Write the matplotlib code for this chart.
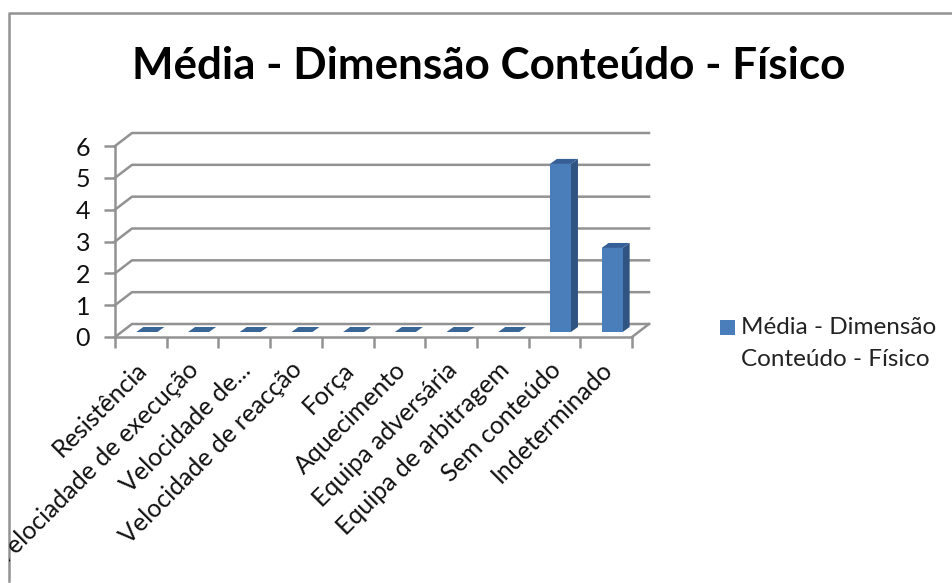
import matplotlib as mpl
mpl.use('Agg')
import matplotlib.pyplot as plt
from matplotlib.patches import Polygon, Rectangle
from matplotlib.transforms import Bbox

plt.rcParams['font.family'] = ['Lato', 'DejaVu Sans']

W, H = 952, 583
GRAY = '#929292'

categories = ['Resistência', 'Velociadade de execução', 'Velocidade de...',
              'Velocidade de reacção', 'Força', 'Aquecimento', 'Equipa adversária',
              'Equipa de arbitragem', 'Sem conteúdo', 'Indeterminado']
values = [0, 0, 0, 0, 0, 0, 0, 0, 5.28, 2.64]
y_ticks = [0, 1, 2, 3, 4, 5, 6]
title = 'Média - Dimensão Conteúdo - Físico'
legend_lines = ['Média - Dimensão', 'Conteúdo - Físico']

fig = plt.figure(figsize=(W / 100, H / 100), dpi=100)

# front plane of the fake 3d box
left, right, top, bottom = 115, 632, 146, 337
ax = fig.add_axes([left / W, 1 - bottom / H, (right - left) / W, (bottom - top) / H])
ax.set_xlim(0, len(categories))
ax.set_ylim(0, 6)
ax.patch.set_alpha(0)

# pixel sizes turned into data units
px_x = len(categories) / (right - left)
px_y = 6 / (bottom - top)
dx, dy = 17 * px_x, 13 * px_y

for s in ['top', 'right']:
    ax.spines[s].set_visible(False)
for s in ['left', 'bottom']:
    ax.spines[s].set_color(GRAY)
    ax.spines[s].set_linewidth(1.8)

# back wall lines and the slanted bits
for v in y_ticks:
    ax.plot([0, dx, len(categories) + dx], [v, v + dy, v + dy], color=GRAY, lw=1.8,
            clip_on=False, zorder=1, solid_joinstyle='round')
ax.plot([len(categories), len(categories) + dx], [0, dy], color=GRAY, lw=1.8, clip_on=False, zorder=1)

# bars
bw = 21 * px_x
fx, fy = 6 * px_x, 5 * px_y
bx, by = 7 * px_x, 5 * px_y
for i, v in enumerate(values):
    x0 = i + 0.5 + fx - bw / 2
    x1 = x0 + bw
    y0 = fy
    y1 = fy + v
    if v > 0:
        ax.add_patch(Polygon([(x1, y0), (x1 + bx, y0 + by), (x1 + bx, y1 + by), (x1, y1)],
                             fc='#2f5482', ec='none', zorder=3, clip_on=False))
        ax.add_patch(Polygon([(x0, y1), (x0 + bx, y1 + by), (x1 + bx, y1 + by), (x1, y1)],
                             fc='#355f96', ec='none', zorder=3, clip_on=False))
        ax.add_patch(Rectangle((x0, y0), bw, v, fc='#4a7ebb', ec='none', zorder=4, clip_on=False))
    else:
        ax.add_patch(Polygon([(x0, y0), (x0 + bx, y0 + by), (x1 + bx, y0 + by), (x1, y0)],
                             fc='#3a6597', ec='none', zorder=3, clip_on=False))

ax.set_yticks(y_ticks)
ax.set_xticks(range(len(categories) + 1))
ax.set_xticklabels([])
ax.tick_params(axis='y', direction='out', length=8, width=1.8, color=GRAY, labelsize=18,
               labelcolor='#111111', pad=10)
ax.tick_params(axis='x', direction='out', length=8, width=1.8, color=GRAY)

# the V of the long label gets cut by the chart border in the picture
clip = Bbox([[9, 0], [W, H]])
for i, c in enumerate(categories):
    t = ax.annotate(c, xy=(i + 0.5, 0), xytext=(-4, -15), textcoords='offset points',
                    rotation=45, rotation_mode='anchor', ha='right', va='top', fontsize=18,
                    color='#111111', annotation_clip=False)
    t.set_clip_box(clip)
    t.set_clip_on(True)

fig.text(489 / W, 1 - 66 / H, title, ha='center', va='center', fontsize=31.7,
         fontweight='bold', color='black')

# legend
fig.patches.append(Rectangle((720 / W, 1 - 335 / H), 15 / W, 15 / H, fc='#4a7ebb', ec='none',
                             transform=fig.transFigure))
fig.text(741 / W, 1 - 328 / H, legend_lines[0], ha='left', va='center', fontsize=17.5, color='#222222')
fig.text(741 / W, 1 - 360 / H, legend_lines[1], ha='left', va='center', fontsize=17.5, color='#222222')

# outer chart border, no right side in the picture
bord = fig.add_axes([0, 0, 1, 1], zorder=-1)
bord.set_xlim(0, W)
bord.set_ylim(H, 0)
bord.axis('off')
bord.plot([8.5, 8.5, W], [581, 13, 13], color=GRAY, lw=1.8)

fig.savefig('out.png', dpi=100)
